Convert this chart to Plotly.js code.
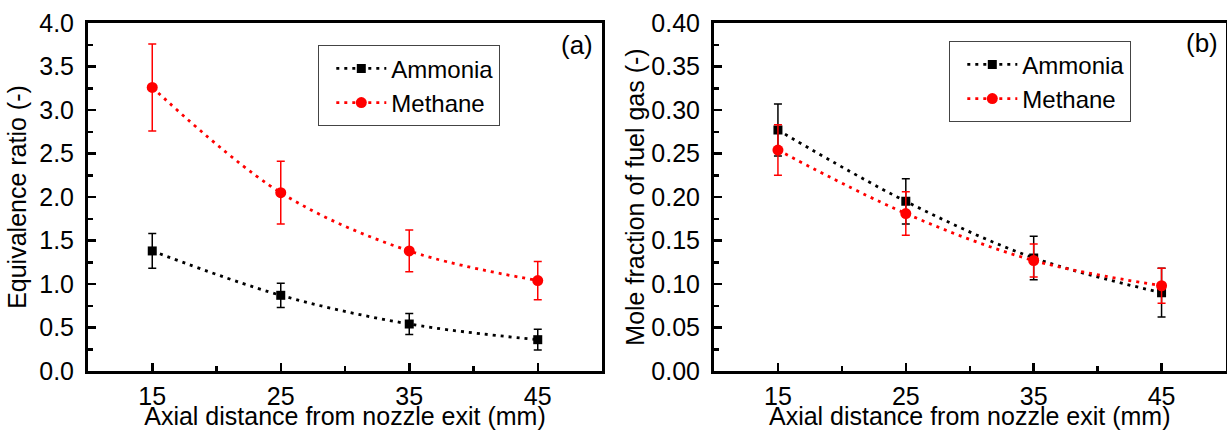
<!DOCTYPE html>
<html>
<head>
<meta charset="utf-8">
<script src="https://cdn.plot.ly/plotly-3.0.1.min.js"></script>
<style>html,body{margin:0;padding:0;background:#fff;}#chart{width:1227px;height:430px;}</style>
</head>
<body>
<div id="chart"></div>
<script>
// ---- data ----
const distances = [15, 25, 35, 45];
const xTickVals = [15, 25, 35, 45];
const seriesNames = ["Ammonia", "Methane"];
// (a) equivalence ratio
const ammoniaPhi = [1.38, 0.87, 0.54, 0.36];
const ammoniaPhiErr = [0.20, 0.14, 0.12, 0.12];
const methanePhi = [3.26, 2.05, 1.38, 1.04];
const methanePhiErr = [0.50, 0.36, 0.24, 0.22];
// (b) mole fraction of fuel gas
const ammoniaMole = [0.277, 0.195, 0.130, 0.090];
const ammoniaMoleErr = [0.030, 0.026, 0.025, 0.028];
const methaneMole = [0.254, 0.181, 0.127, 0.098];
const methaneMoleErr = [0.029, 0.025, 0.019, 0.020];

const FONT = "Liberation Sans, Arial, Helvetica, sans-serif";
const W = 1227, H = 430;
const px = v => v / W, py = v => 1 - v / H;

function trace(name, y, err, color, symbol, size, xa, ya, legend) {
  return {
    x: distances, y: y, name: name, type: "scatter", mode: "lines+markers",
    xaxis: xa, yaxis: ya, legend: legend, showlegend: true,
    line: {color: color, width: 2.8, dash: "3px,5px", shape: "spline", smoothing: 1},
    marker: {color: color, symbol: symbol, size: size},
    error_y: {type: "data", array: err, visible: true, color: color, thickness: 1.5, width: 4}
  };
}

const data = [
  trace(seriesNames[0], ammoniaPhi, ammoniaPhiErr, "#000000", "square", 9, "x", "y", "legend"),
  trace(seriesNames[1], methanePhi, methanePhiErr, "#ff0000", "circle", 11, "x", "y", "legend"),
  trace(seriesNames[0], ammoniaMole, ammoniaMoleErr, "#000000", "square", 9, "x2", "y2", "legend2"),
  trace(seriesNames[1], methaneMole, methaneMoleErr, "#ff0000", "circle", 11, "x2", "y2", "legend2")
];

function xAxis(domain, anchor) {
  return {
    domain: domain, anchor: anchor, range: [10, 50],
    tickmode: "array", tickvals: xTickVals, ticktext: xTickVals.map(String),
    ticks: "inside", ticklen: 8, tickwidth: 2.5, tickcolor: "#000",
    minor: {tickmode: "linear", tick0: 10, dtick: 5, ticks: "inside", ticklen: 5, tickwidth: 2.5, tickcolor: "#000"},
    showline: true, linewidth: 3, linecolor: "#000", mirror: true,
    showgrid: false, zeroline: false,
    tickfont: {family: FONT, size: 25, color: "#000"},
    ticklabelstandoff: 1,
    title: {text: "Axial distance from nozzle exit (mm)", font: {family: FONT, size: 25, color: "#000"}, standoff: 3}
  };
}
function yAxis(domain, anchor, range, dtick, fmt, title, standoff) {
  return {
    domain: domain, anchor: anchor, range: range,
    tickmode: "linear", tick0: 0, dtick: dtick, tickformat: fmt,
    ticks: "inside", ticklen: 8, tickwidth: 2.5, tickcolor: "#000",
    minor: {tickmode: "linear", tick0: 0, dtick: dtick / 2, ticks: "inside", ticklen: 5, tickwidth: 2.5, tickcolor: "#000"},
    showline: true, linewidth: 3, linecolor: "#000", mirror: true,
    showgrid: false, zeroline: false,
    tickfont: {family: FONT, size: 25, color: "#000"},
    ticklabelstandoff: 6,
    title: {text: title, font: {family: FONT, size: 25, color: "#000"}, standoff: standoff}
  };
}

function legendBox(x, y) {
  return {
    x: px(x), y: py(y), xanchor: "left", yanchor: "top",
    bordercolor: "#444", borderwidth: 1.3, bgcolor: "#fff",
    font: {family: FONT, size: 24, color: "#000"},
    itemwidth: 50, indentation: 12, tracegroupgap: 0
  };
}

const yDom = [py(371), py(23)];
const layout = {
  width: W, height: H,
  margin: {l: 0, r: 0, t: 0, b: 0},
  paper_bgcolor: "#fff", plot_bgcolor: "#fff",
  font: {family: FONT, color: "#000"},
  xaxis: xAxis([px(88), px(602)], "y"),
  yaxis: yAxis(yDom, "x", [0, 4], 0.5, ".1f", "Equivalence ratio (-)", 6),
  xaxis2: xAxis([px(714), px(1225.5)], "y2"),
  yaxis2: yAxis(yDom, "x2", [0, 0.4], 0.05, ".2f", "Mole fraction of fuel gas (-)", 0),
  legend: legendBox(318, 45),
  legend2: legendBox(949, 41),
  annotations: [
    {text: "(a)", xref: "paper", yref: "paper", x: px(577), y: py(45), xanchor: "center", yanchor: "middle",
     showarrow: false, font: {family: FONT, size: 26, color: "#000"}},
    {text: "(b)", xref: "paper", yref: "paper", x: px(1202), y: py(43), xanchor: "center", yanchor: "middle",
     showarrow: false, font: {family: FONT, size: 26, color: "#000"}}
  ]
};

Plotly.newPlot("chart", data, layout, {staticPlot: true, displayModeBar: false});
</script>
</body>
</html>
